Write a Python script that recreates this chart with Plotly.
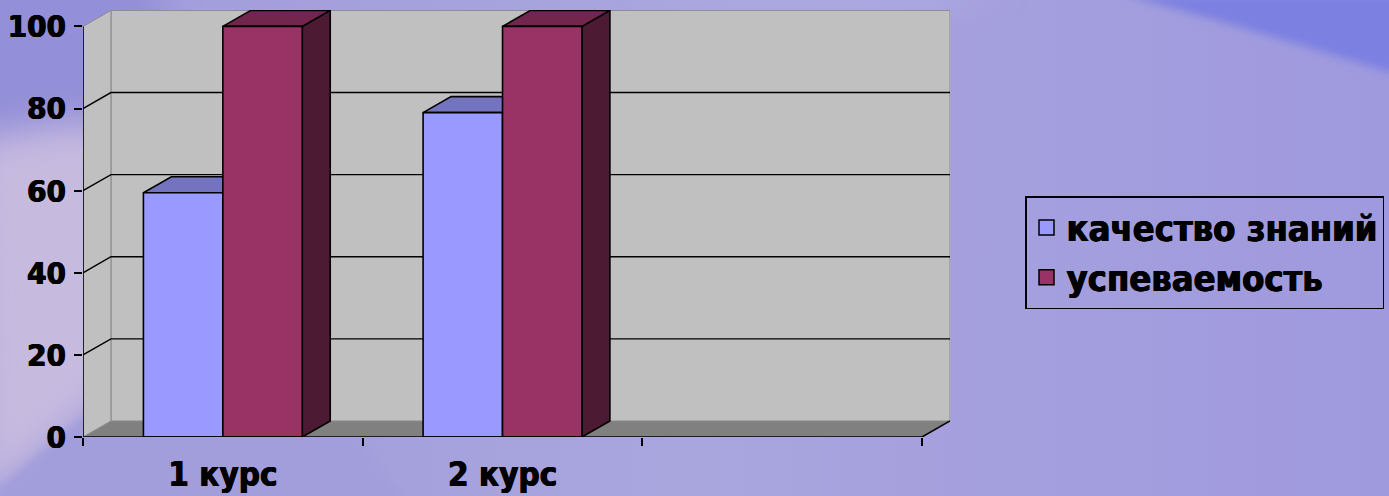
import base64
import plotly.graph_objects as go

# ---------------- data ----------------
categories = ["1 курс", "2 курс", ""]
series_names = ["качество знаний", "успеваемость"]
quality = [59.5, 79]        # качество знаний
success = [100, 100]        # успеваемость
y_ticks = [0, 20, 40, 60, 80, 100]

series_values = [quality, success]
front_colors = ["#9999FF", "#993366"]
top_colors = ["#7373BF", "#73264D"]
side_colors = ["#4D4D80", "#4D1A33"]

# pseudo-3D geometry (in axis units)
DX, DY = 0.1, 3.9     # depth offset: category units / value units
W = 0.284             # bar width (category units)
NCAT = len(categories)
YTOP = max(y_ticks)

FONT = "DejaVu Sans Condensed, DejaVu Sans"
SHADOW = "0.7px 0 0 black, -0.4px 0 0 black"

fig = go.Figure()

# ---------------- background (decorative gradient) ----------------
svg = f"""<svg xmlns='http://www.w3.org/2000/svg' width='1389' height='496' viewBox='0 0 1389 496'>
<defs>
<filter id='b' x='-50%' y='-50%' width='200%' height='200%'><feGaussianBlur stdDeviation='18'/></filter>
<filter id='s' x='-50%' y='-50%' width='200%' height='200%'><feGaussianBlur stdDeviation='4'/></filter>
<linearGradient id='g' x1='0' y1='0' x2='1' y2='0'>
<stop offset='0' stop-color='#a19cdc'/><stop offset='0.5' stop-color='#a9a5dd'/><stop offset='1' stop-color='#9f99de'/>
</linearGradient>
</defs>
<rect width='1389' height='496' fill='url(#g)'/>
<path d='M-40,-40 L160,-40 L160,150 L-40,170 Z' fill='#938fd8' filter='url(#b)'/>
<path d='M-30,140 L90,120 L260,260 L83,416 L-20,505 Z' fill='#c6badf' filter='url(#b)'/>
<path d='M-20,505 L83,416 L260,300 L420,520 Z' fill='#a29edc' filter='url(#s)'/>
<path d='M1123,-5 C1220,20 1300,45 1400,75 L1400,-5 Z' fill='#7b80e1' filter='url(#s)'/>
<path d='M640,-10 C760,10 900,20 1000,-10 Z' fill='#b3b0e4' filter='url(#b)'/>
</svg>"""
src = "data:image/svg+xml;base64," + base64.b64encode(svg.encode("utf-8")).decode("ascii")

L, R, T, B = 83, 439, 10, 59
PW, PH = 1389 - L - R, 496 - T - B
fig.add_layout_image(dict(
    source=src, xref="paper", yref="paper",
    x=-L / PW, y=1 + T / PH, sizex=1389 / PW, sizey=496 / PH,
    xanchor="left", yanchor="top", sizing="stretch", layer="below",
))

# ---------------- walls & floor ----------------
def poly(xs, ys, fill, line_color=None, width=0):
    fig.add_trace(go.Scatter(
        x=xs, y=ys, mode="lines", fill="toself", fillcolor=fill,
        line=dict(color=line_color or fill, width=width),
        hoverinfo="skip", showlegend=False,
    ))

# floor
poly([0, NCAT, NCAT + DX, DX, 0], [0, 0, DY, DY, 0], "#808080")
# back wall
poly([DX, NCAT + DX, NCAT + DX, DX, DX], [DY, DY, YTOP + DY, YTOP + DY, DY],
     "#c0c0c0", "#8a8a8a", 1)
# left side wall
poly([0, DX, DX, 0, 0], [0, DY, YTOP + DY, YTOP, 0], "#c0c0c0", "#8a8a8a", 1)

# gridlines (back wall + left wall)
gx, gy = [], []
for v in y_ticks[1:-1]:
    gx += [0, DX, NCAT + DX, None]
    gy += [v, v + DY, v + DY, None]
fig.add_trace(go.Scatter(x=gx, y=gy, mode="lines", line=dict(color="black", width=1.4),
                         hoverinfo="skip", showlegend=False))

# floor right edge
fig.add_trace(go.Scatter(x=[NCAT, NCAT + DX], y=[0, DY], mode="lines",
                         line=dict(color="black", width=1.5), hoverinfo="skip", showlegend=False))

# ---------------- 3D bars ----------------
for s, (name, vals) in enumerate(zip(series_names, series_values)):
    fx, fy, tx, ty, sx, sy = [], [], [], [], [], []
    for i, v in enumerate(vals):
        c = i + 0.5
        x0 = c - W + s * W
        x1 = x0 + W
        fx += [x0, x1, x1, x0, x0, None]
        fy += [0, 0, v, v, 0, None]
        tx += [x0, x1, x1 + DX, x0 + DX, x0, None]
        ty += [v, v, v + DY, v + DY, v, None]
        sx += [x1, x1 + DX, x1 + DX, x1, x1, None]
        sy += [0, DY, v + DY, v, 0, None]
    for xs, ys, col in ((sx, sy, side_colors[s]), (tx, ty, top_colors[s]), (fx, fy, front_colors[s])):
        fig.add_trace(go.Scatter(
            x=xs, y=ys, mode="lines", fill="toself", fillcolor=col,
            line=dict(color="black", width=1.6), name=name,
            hoverinfo="skip", showlegend=False,
        ))

# legend keys
for s, name in enumerate(series_names):
    fig.add_trace(go.Scatter(
        x=[None], y=[None], mode="markers", name=name, legendgroup=name,
        marker=dict(symbol="square", size=15, color=front_colors[s],
                    line=dict(color="black", width=1.5)),
    ))

# front axis lines
fig.add_trace(go.Scatter(x=[0, NCAT, None, 0, 0], y=[0, 0, None, 0, YTOP], mode="lines",
                         line=dict(color="black", width=1.6), hoverinfo="skip", showlegend=False))

# ---------------- layout ----------------
xtick_font = dict(family=FONT, size=33, color="black", weight="bold", shadow=SHADOW)
ytick_font = dict(family=FONT, size=31, color="black", weight="bold", shadow=SHADOW)
fig.update_layout(
    width=1389, height=496, autosize=False,
    margin=dict(l=L, r=R, t=T, b=B, pad=0, autoexpand=False),
    paper_bgcolor="#a5a0dc", plot_bgcolor="rgba(0,0,0,0)",
    xaxis=dict(
        range=[0, NCAT + DX], showgrid=False, zeroline=False, showline=False,
        tickmode="array", tickvals=[i + 0.5 for i in range(NCAT)], ticktext=categories,
        ticks="", tickfont=xtick_font, ticklabelstandoff=15, automargin=False,
        minor=dict(tickmode="array", tickvals=list(range(NCAT + 1)), ticks="outside",
                   ticklen=8, tickwidth=1.5, tickcolor="black", showgrid=False),
        fixedrange=True,
    ),
    yaxis=dict(
        range=[0, YTOP + 4], showgrid=False, zeroline=False, showline=False,
        tickmode="array", tickvals=y_ticks, ticks="outside", ticklen=8,
        tickwidth=1.5, tickcolor="black", tickfont=ytick_font, fixedrange=True,
        ticklabelstandoff=2, automargin=False,
    ),
    legend=dict(
        x=(1025 - L) / PW, y=(437 - 196) / PH, xanchor="left", yanchor="top",
        bgcolor="rgba(0,0,0,0)", bordercolor="black", borderwidth=1.5,
        font=dict(family=FONT, size=36, color="black", weight="bold", shadow=SHADOW),
        tracegroupgap=0, traceorder="normal",
    ),
    showlegend=True,
)

fig.write_html("out.html", config={"displayModeBar": False},
               post_script="document.body.style.margin='0';")
